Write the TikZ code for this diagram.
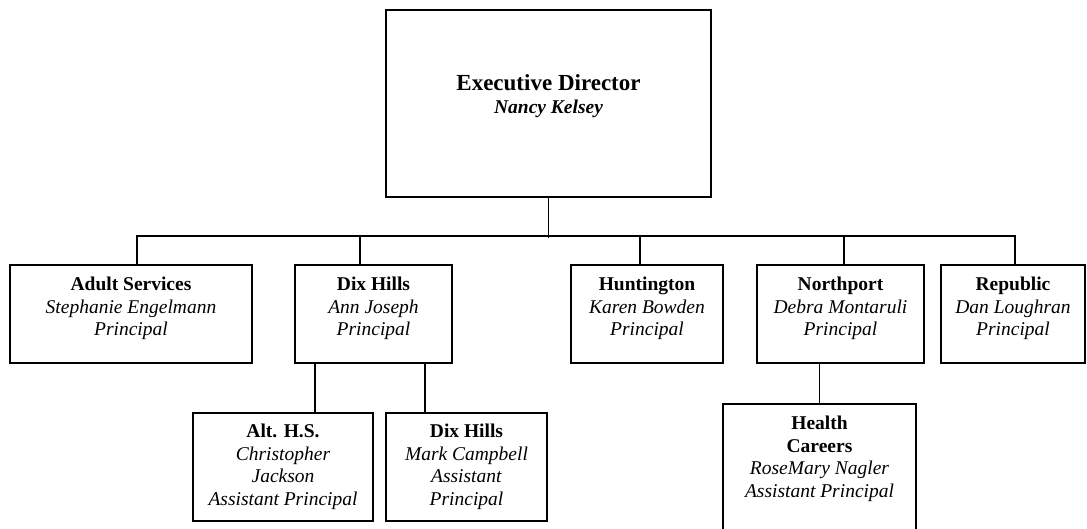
\documentclass[tikz,border=0pt]{standalone}
\usepackage{fontspec}
\setmainfont{Liberation Serif}
\usetikzlibrary{positioning}
\tikzset{
  unit/.style={draw, line width=2pt, inner sep=0pt},
  tag/.style={align=center, inner sep=0pt, font=\fontsize{19.5}{22.5}\selectfont},
  link/.style={line width=1.6pt},
}
\begin{document}
\begin{tikzpicture}[x=1pt, y=-1pt]
        \useasboundingbox (0,0) rectangle (1087,529);
        % boxes
        \node[unit, minimum width=325pt, minimum height=187pt] (exec) at (548.5,103.5) {};
        \node[unit, minimum width=242pt, minimum height=98pt] (adult) at (131,314) {};
        \node[unit, minimum width=157pt, minimum height=98pt] (dix) at (373.5,314) {};
        \node[unit, minimum width=152pt, minimum height=98pt] (hunt) at (647,314) {};
        \node[unit, minimum width=167pt, minimum height=98pt] (north) at (840.5,314) {};
        \node[unit, minimum width=144pt, minimum height=98pt] (repub) at (1013,314) {};
        \node[unit, minimum width=180pt, minimum height=108pt] (alths) at (283,467) {};
        \node[unit, minimum width=161pt, minimum height=108pt] (dixap) at (466.5,467) {};
        \node[unit, minimum width=193pt, minimum height=140pt] (health) at (819.5,474) {};
        % texts
        \node[tag, font=\fontsize{19.5}{23}\selectfont, below=65pt of exec.north] (exec-t)
          {{\fontsize{23}{23}\selectfont\bfseries Executive Director}\\{\bfseries\itshape Nancy Kelsey}};
        \node[tag, below=13pt of adult.north] (adult-t) {\textbf{Adult Services}\\\textit{Stephanie Engelmann}\\\textit{Principal}};
        \node[tag, below=13pt of dix.north] (dix-t) {\textbf{Dix Hills}\\\textit{Ann Joseph}\\\textit{Principal}};
        \node[tag, below=13pt of hunt.north] (hunt-t) {\textbf{Huntington}\\\textit{Karen Bowden}\\\textit{Principal}};
        \node[tag, below=13pt of north.north] (north-t) {\textbf{Northport}\\\textit{Debra Montaruli}\\\textit{Principal}};
        \node[tag, below=13pt of repub.north] (repub-t) {\textbf{Republic}\\\textit{Dan Loughran}\\\textit{Principal}};
        \node[tag, below=12pt of alths.north] (alths-t) {\textbf{Alt. H.S.}\\\textit{Christopher}\\\textit{Jackson}\\\textit{Assistant Principal}};
        \node[tag, below=12pt of dixap.north] (dixap-t) {\textbf{Dix Hills}\\\textit{Mark Campbell}\\\textit{Assistant}\\\textit{Principal}};
        \node[tag, below=13pt of health.north] (health-t) {\textbf{Health}\\\textbf{Careers}\\\textit{RoseMary Nagler}\\\textit{Assistant Principal}};
        % lines
        \draw[link] (exec.south) -- ++(0,40);
        \draw[link] ([xshift=6pt]adult.north) -- ++(0,-28) -| ([xshift=2pt]repub.north);
        \draw[link] ([xshift=-13.5pt]dix.north) -- ++(0,-28);
        \draw[link] ([xshift=-7pt]hunt.north) -- ++(0,-28);
        \draw[link] ([xshift=3.5pt]north.north) -- ++(0,-28);
        \draw[link] ([xshift=-58.5pt]dix.south) -- ([xshift=-58.5pt]dix.south |- alths.north);
        \draw[link] ([xshift=51.5pt]dix.south) -- ([xshift=51.5pt]dix.south |- dixap.north);
        \draw[link] (health.north) -- (health.north |- north.south);
\end{tikzpicture}
\end{document}
